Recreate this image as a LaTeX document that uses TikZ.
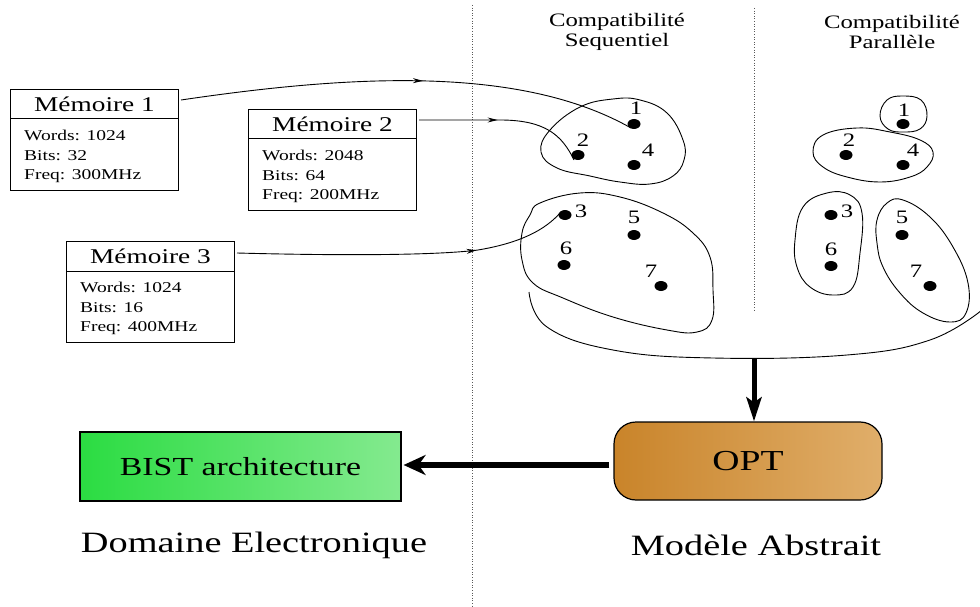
\documentclass[tikz,border=0pt]{standalone}
\usepackage{fontspec}
\setmainfont{Liberation Serif}[FakeStretch=1.3]
\usetikzlibrary{arrows.meta,decorations.markings}
\definecolor{optL}{HTML}{C9842A}
\definecolor{optR}{HTML}{E0AE6A}
\definecolor{bistL}{HTML}{2BDC42}
\definecolor{bistR}{HTML}{84EA8F}
\newcommand\memorybox[7]{%
  \node[membox, anchor=north west] (#1) at (#2,#3) {};
  \draw[line width=1pt] ([yshift=-30pt]#1.north west) -- ([yshift=-30pt]#1.north east);
  \node[memtitle] (#1t) at ([yshift=-15pt]#1.north) {#4};
  \node[memtext] (#1a) at ([xshift=14pt,yshift=-46pt]#1.north west) {#5};
  \node[memtext] (#1b) at ([xshift=14pt,yshift=-67pt]#1.north west) {#6};
  \node[memtext] (#1c) at ([xshift=14pt,yshift=-87pt]#1.north west) {#7};
}
\begin{document}
\begin{tikzpicture}[x=1pt,y=-1pt,
  membox/.style={draw, line width=1pt, minimum width=168pt, minimum height=101pt, inner sep=0pt},
  memtitle/.style={font=\fontsize{21}{24}\selectfont, inner sep=0pt},
  memtext/.style={font=\fontsize{15}{18}\selectfont, anchor=west, inner sep=0pt},
  hdr/.style={font=\fontsize{19}{20}\selectfont, align=center, inner sep=0pt},
  num/.style={font=\fontsize{19}{20}\selectfont, inner sep=0pt},
  big/.style={font=\fontsize{29.5}{32}\selectfont, inner sep=0pt},
  blob/.style={line width=0.9pt},
  sep/.style={line width=0.8pt, dash pattern=on 1pt off 1.6pt, gray!70!black},
  conn/.style={line width=0.9pt},
  midarrow/.style={decoration={markings, mark=at position #1 with {\arrow{Stealth[length=10pt,width=5pt]}}}, postaction={decorate}},
  thick arrow/.style={line width=6.5pt, -{Stealth[length=22pt,width=20pt,inset=7pt]}},
  dotm/.style={fill=black}
]
\useasboundingbox (0,0) rectangle (980,607);

% separators
\draw[sep] (472,5) -- (472,607);
\draw[sep] (754,8) -- (754,310);

% headers
\node[hdr] (hseq) at (617,32) {Compatibilité\\Sequentiel};
\node[hdr] (hpar) at (892,32) {Compatibilité\\Parallèle};

% memory boxes
\memorybox{m1}{10}{89}{Mémoire 1}{Words: 1024}{Bits: 32}{Freq: 300MHz}
\memorybox{m2}{248}{109}{Mémoire 2}{Words: 2048}{Bits: 64}{Freq: 200MHz}
\memorybox{m3}{66}{241}{Mémoire 3}{Words: 1024}{Bits: 16}{Freq: 400MHz}

% sequential dots
\coordinate (s1) at (634,124); \coordinate (s2) at (578,155); \coordinate (s4) at (634,165);
\coordinate (s3) at (565,215); \coordinate (s5) at (634,235); \coordinate (s6) at (564,265);
\coordinate (s7) at (661,286);
\foreach \p in {s1,s2,s3,s4,s5,s6,s7} \fill[dotm] (\p) ellipse (6.5 and 5);
\node[num] (ls1) at (636,108) {1};
\node[num] (ls2) at (583,140) {2};
\node[num] (ls4) at (648,150) {4};
\node[num] (ls3) at (581,211) {3};
\node[num] (ls5) at (634,217) {5};
\node[num] (ls6) at (566,248) {6};
\node[num] (ls7) at (651,271) {7};

% parallel dots
\coordinate (p1) at (903,124); \coordinate (p2) at (846,155); \coordinate (p4) at (903,165);
\coordinate (p3) at (831,215); \coordinate (p5) at (902,235); \coordinate (p6) at (831,266);
\coordinate (p7) at (930,286);
\foreach \p in {p1,p2,p3,p4,p5,p6,p7} \fill[dotm] (\p) ellipse (6.5 and 5);
\node[num] (lp1) at (904,110) {1};
\node[num] (lp2) at (849,140) {2};
\node[num] (lp4) at (913,150) {4};
\node[num] (lp3) at (847,211) {3};
\node[num] (lp5) at (902,217) {5};
\node[num] (lp6) at (831,249) {6};
\node[num] (lp7) at (916,271) {7};

% sequential blobs
\draw[blob] plot[smooth cycle, tension=0.7] coordinates {(541,152) (550,130) (580,107) (613,99) (640,100) (667,113) (683,140) (684,160) (673,176) (650,184) (620,182) (590,176) (557,168)};
\draw[blob] plot[smooth cycle, tension=0.7] coordinates {(540,203) (580,193) (620,197) (663,213) (693,233) (710,257) (713,290) (712,320) (697,332) (667,330) (613,317) (563,298) (533,283) (522,260) (522,233) (530,215)};

% parallel blobs
\draw[blob] plot[smooth cycle, tension=0.7] coordinates {(880,116) (887,100) (903,96) (921,100) (927,116) (920,129) (903,132) (888,129)};
\draw[blob] plot[smooth cycle, tension=0.7] coordinates {(813,152) (823,135) (857,128) (890,132) (920,140) (933,152) (927,167) (910,177) (880,182) (847,177) (823,167)};
\draw[blob] plot[smooth cycle, tension=0.7] coordinates {(795,240) (803,207) (827,193) (850,195) (862,213) (860,253) (853,287) (833,295) (810,287) (797,267)};
\draw[blob] plot[smooth cycle, tension=0.7] coordinates {(877,220) (887,203) (903,200) (930,217) (953,247) (968,283) (966,313) (950,322) (923,313) (900,293) (883,267) (877,243)};

% union curve
\coordinate (ubot) at (754,358);
\draw[blob] plot[smooth, tension=0.7] coordinates {(529,292) (547,327) (613,350) (713,358) (847,355) (930,340) (982,310)};

% connectors from memories
\draw[conn, midarrow=0.53] ([yshift=-11pt,xshift=2pt]m1.north east) .. controls (350,75) and (520,65) .. ([xshift=-3pt,yshift=-4pt]s1);
\draw[conn, midarrow=0.46] ([yshift=-11pt,xshift=2pt]m2.north east) -- (500,120) .. controls (545,120) and (562,135) .. ([xshift=-4pt,yshift=-5pt]s2);
\draw[conn, midarrow=0.72] ([yshift=-12pt,xshift=2pt]m3.north east) .. controls (350,256) and (440,255) .. (478,250) .. controls (520,243) and (545,230) .. ([xshift=-5pt,yshift=2pt]s3);

% OPT and BIST
\node[draw, line width=1.2pt, rounded corners=22pt, left color=optL, right color=optR,
      minimum width=268pt, minimum height=78pt, font=\fontsize{29}{30}\selectfont] (opt) at (748,461) {OPT};
\node[draw, line width=1.2pt, left color=bistL, right color=bistR,
      minimum width=321pt, minimum height=69pt, font=\fontsize{26}{28}\selectfont] (bist) at (240.5,466.5) {BIST architecture};

\draw[line width=5pt, -{Stealth[length=24pt,width=15pt,inset=5pt]}] (ubot) -- (opt.north -| ubot);
\draw[thick arrow] ([xshift=-4pt]opt.west |- 0,465) -- ([xshift=2pt]bist.east |- 0,465);

% domain labels
\node[big] (dom) at (254,545) {Domaine Electronique};
\node[big] (mod) at (756,545) {Modèle Abstrait};
\end{tikzpicture}
\end{document}
